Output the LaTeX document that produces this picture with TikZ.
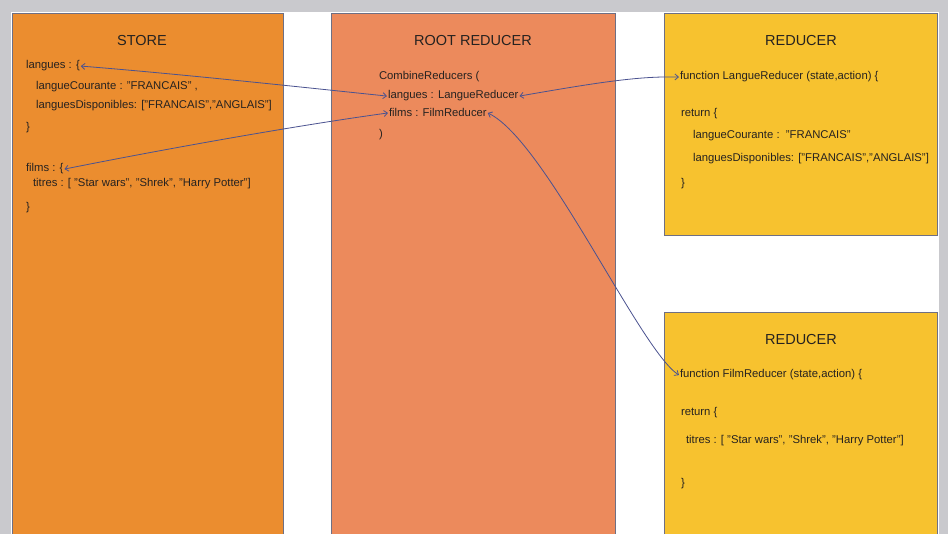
\documentclass[tikz,border=0pt]{standalone}
\usepackage{fontspec}
\setmainfont{Liberation Sans}
\usetikzlibrary{arrows.meta}
\definecolor{bgray}{HTML}{C9C9CD}
\definecolor{storec}{HTML}{EB8D2F}
\definecolor{rootc}{HTML}{EC8A5C}
\definecolor{redc}{HTML}{F7C22F}
\definecolor{bordc}{HTML}{6E6F84}
\definecolor{txtc}{HTML}{262220}
\definecolor{arrc}{HTML}{4A5290}
\tikzset{
  panel/.style={draw=bordc, line width=0.9pt},
  txt/.style={anchor=base west, inner sep=0.8pt, text=txtc, font=\fontsize{11.3}{13}\selectfont},
  ttl/.style={anchor=base, inner sep=0pt, text=txtc, font=\fontsize{14.5}{17}\selectfont},
  link/.style={draw=arrc, line width=0.8pt, {Straight Barb[length=3.5pt,width=6pt]}-{Straight Barb[length=3.5pt,width=6pt]}}
}
\begin{document}
\begin{tikzpicture}[x=1pt,y=-1pt]
\useasboundingbox (0,0) rectangle (948,534);
\clip (0,0) rectangle (948,534);
\fill[bgray] (0,0) rectangle (948,534);
\fill[white] (11,12) rectangle (939,540);
% panels
\filldraw[panel, fill=storec] (12,13) rectangle (283,545);
\filldraw[panel, fill=rootc] (331,13) rectangle (615,545);
\filldraw[panel, fill=redc] (664,13) rectangle (937,235);
\filldraw[panel, fill=redc] (664,312) rectangle (937,545);
% STORE
\node[ttl] (tStore) at (142,46) {STORE};
\node[txt] (sLang) at (25,69) {langues : \{};
\node[txt] (sCour) at (35,90) {langueCourante : "FRANCAIS" ,};
\node[txt] (sDisp) at (35,109) {languesDisponibles: ["FRANCAIS","ANGLAIS"]};
\node[txt] (sClose1) at (25,131) {\}};
\node[txt] (sFilms) at (25,172) {films : \{};
\node[txt] (sTitres) at (32,187) {titres : [ "Star wars", "Shrek", "Harry Potter"]};
\node[txt] (sClose2) at (25,211) {\}};
% ROOT REDUCER
\node[ttl] (tRoot) at (473,46) {ROOT REDUCER};
\node[txt] (rComb) at (378,80) {CombineReducers (};
\node[txt] (rLang) at (387,99) {langues : LangueReducer};
\node[txt] (rFilms) at (388,117) {films : FilmReducer};
\node[txt] (rClose) at (378,138) {)};
% REDUCER 1
\node[ttl] (tRed1) at (801,46) {REDUCER};
\node[txt] (aFunc) at (679,80) {function LangueReducer (state,action) \{};
\node[txt] (aRet) at (680,117) {return \{};
\node[txt] (aCour) at (692,139) {langueCourante :\ \ "FRANCAIS"};
\node[txt] (aDisp) at (692,162) {languesDisponibles: ["FRANCAIS","ANGLAIS"]};
\node[txt] (aClose) at (680,187) {\}};
% REDUCER 2
\node[ttl] (tRed2) at (801,345) {REDUCER};
\node[txt] (bFunc) at (679,378) {function FilmReducer (state,action) \{};
\node[txt] (bRet) at (680,416) {return \{};
\node[txt] (bTitres) at (685,444) {titres : [ "Star wars", "Shrek", "Harry Potter"]};
\node[txt] (bClose) at (680,486) {\}};
% connectors
\draw[link] (sLang.east) .. controls (180,74) and (300,87) .. (rLang.west);
\draw[link] (sFilms.east) .. controls (170,148) and (300,125) .. (rFilms.west);
\draw[link] (rLang.east) .. controls (600,82) and (640,76) .. (aFunc.west);
\draw[link] (rFilms.east) .. controls (545,140) and (640,350) .. (bFunc.west);
\end{tikzpicture}
\end{document}
